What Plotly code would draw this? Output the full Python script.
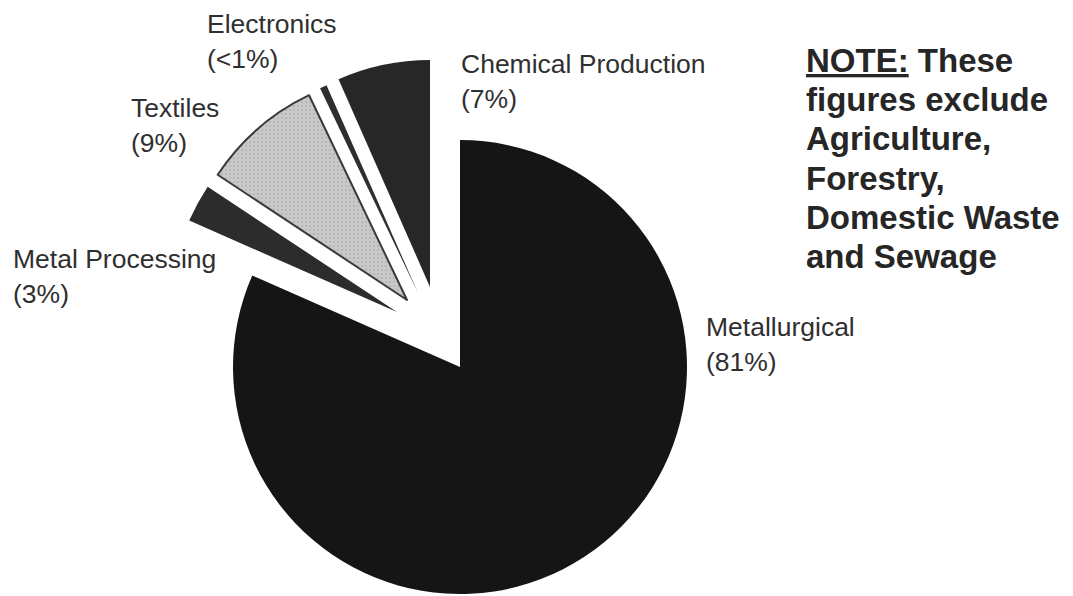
import plotly.graph_objects as go

# ---- data ----
categories = ["Metallurgical", "Metal Processing", "Textiles", "Electronics", "Chemical Production"]
values = [81.6, 2.7, 8.6, 0.5, 6.6]
pct_labels = ["(81%)", "(3%)", "(9%)", "(<1%)", "(7%)"]
note_lines = ["<u>NOTE:</u> These", "figures exclude", "Agriculture,", "Forestry,",
              "Domestic Waste", "and Sewage"]

# ---- styles / layout ----
W, H = 1073, 596
R = 227                      # pie radius (px)
CX, CY = 460, 367            # pie centre (px)
explode_px = [(0, 0), (-63, -55), (-53, -67), (-42, -74), (-30, -80)]
fill = ["#151515", "#2c2c2c", "#c9c9c9", "#2e2e2e", "#272727"]
edge = ["#151515", "#2c2c2c", "#3a3a3a", "#2e2e2e", "#272727"]
edge_w = [0, 0, 2, 0, 0]
pattern_shape = ["", "", ".", "", ""]

label_pos = [(705, 336), (12, 268), (130, 117), (206, 33), (460, 73)]  # left x, baseline y
LABEL_SIZE = 26.5
LABEL_GAP = 35
NOTE_X, NOTE_Y0, NOTE_GAP, NOTE_SIZE = 805, 72, 39.2, 33

fig = go.Figure()
for i, (dx, dy) in enumerate(explode_px):
    cx, cy = CX + dx, CY + dy
    colors = ["rgba(0,0,0,0)"] * len(values)
    lcolors = ["rgba(0,0,0,0)"] * len(values)
    lwidths = [0] * len(values)
    shapes = [""] * len(values)
    colors[i] = fill[i]
    lcolors[i] = edge[i]
    lwidths[i] = edge_w[i]
    shapes[i] = pattern_shape[i]
    fig.add_trace(go.Pie(
        labels=categories, values=values, sort=False, direction="clockwise", rotation=0,
        marker=dict(colors=colors, line=dict(color=lcolors, width=lwidths),
                    pattern=dict(shape=shapes, fillmode="overlay", fgcolor="#9a9a9a",
                                 size=4, solidity=0.2)),
        textinfo="none", hoverinfo="label+percent", showlegend=False,
        domain=dict(x=[(cx - R) / W, (cx + R) / W],
                    y=[1 - (cy + R) / H, 1 - (cy - R) / H]),
    ))

annotations = []
for name, pct, (lx, by) in zip(categories, pct_labels, label_pos):
    for k, line in enumerate([name, pct]):
        yc = by + k * LABEL_GAP - 0.35 * LABEL_SIZE
        annotations.append(dict(
            x=lx / W, y=1 - yc / H, xref="paper", yref="paper", xanchor="left", yanchor="middle",
            text=line, showarrow=False, borderpad=0,
            font=dict(family="Liberation Sans, Arial, sans-serif", size=LABEL_SIZE, color="#2f2f2f")))

for k, line in enumerate(note_lines):
    yc = NOTE_Y0 + k * NOTE_GAP - 0.35 * NOTE_SIZE
    annotations.append(dict(
        x=NOTE_X / W, y=1 - yc / H, xref="paper", yref="paper", xanchor="left", yanchor="middle",
        text="<b>" + line + "</b>", showarrow=False, borderpad=0,
        font=dict(family="Liberation Sans, Arial, sans-serif", size=NOTE_SIZE, color="#262626")))

fig.update_layout(
    width=W, height=H, margin=dict(l=0, r=0, t=0, b=0),
    paper_bgcolor="white", plot_bgcolor="white",
    annotations=annotations,
)

fig.write_html("out.html")
